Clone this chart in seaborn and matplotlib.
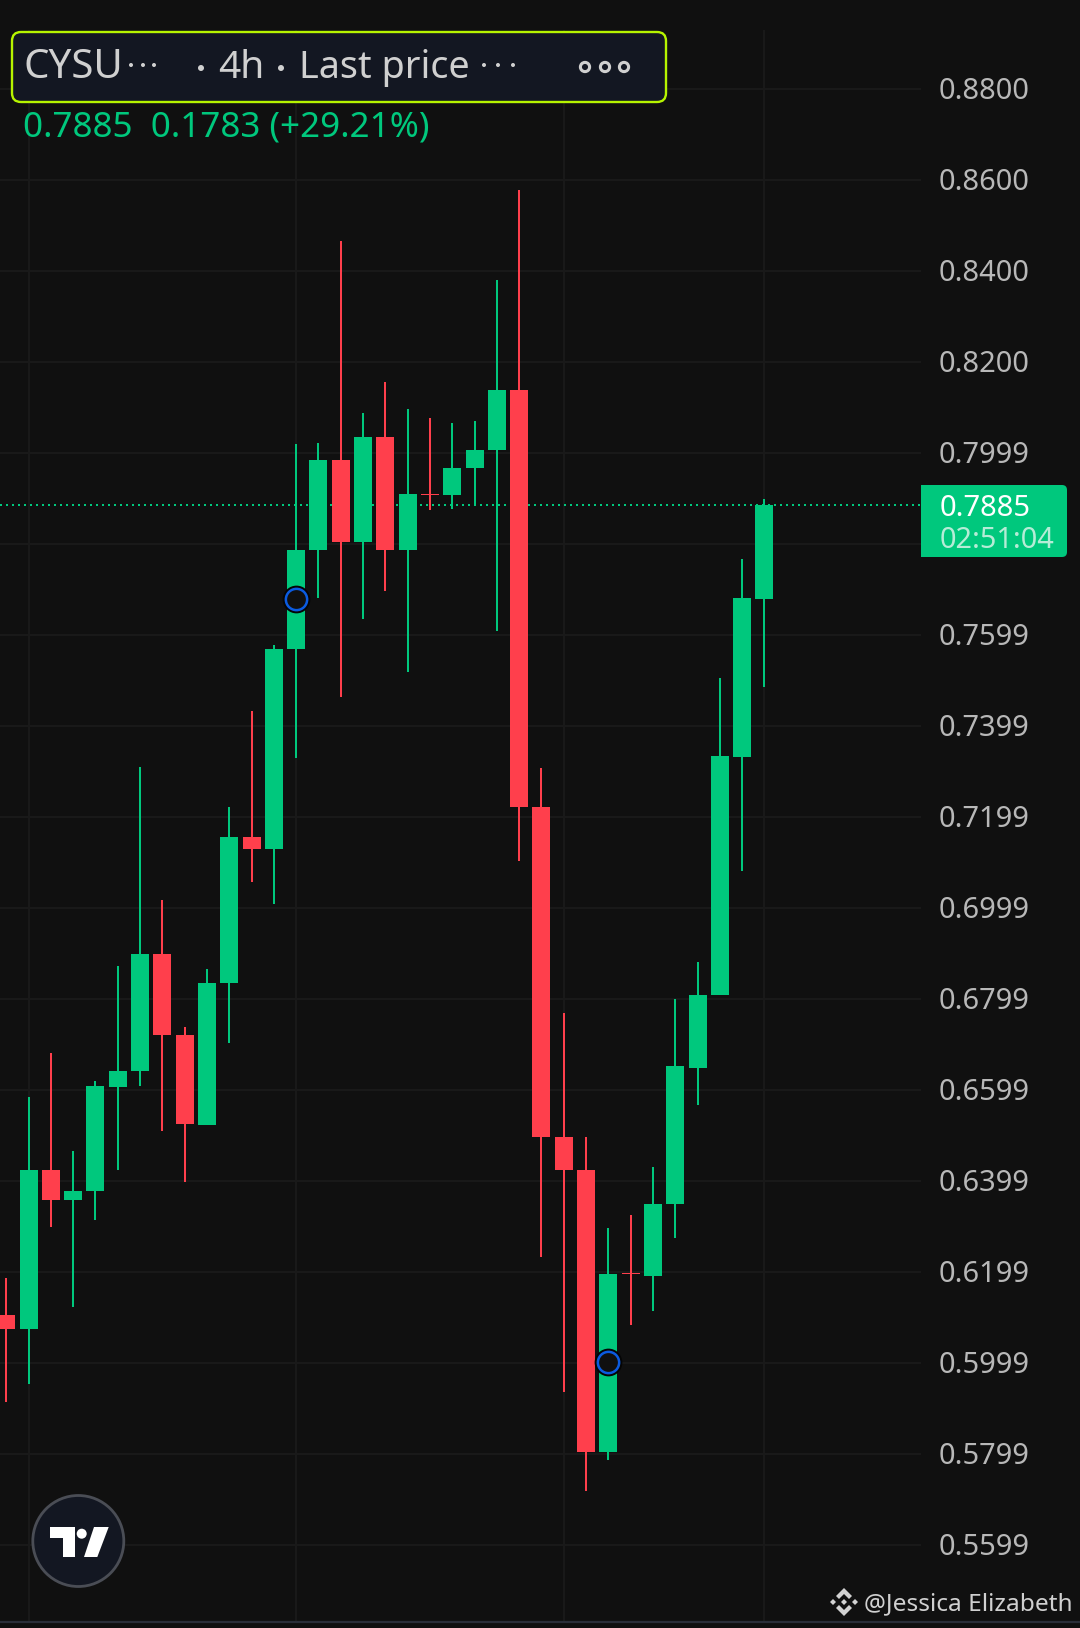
import numpy as np
import pandas as pd
import seaborn as sns
import matplotlib.pyplot as plt
from matplotlib.patches import Circle, FancyBboxPatch, Polygon, Rectangle
from matplotlib.transforms import ScaledTranslation

BG = "#101010"
GRID = "#1a1a1a"
GREEN = "#00c87d"
RED = "#ff3f4c"
PANEL = "#131722"
TEXT = "#d0d0d0"
SCALE_TEXT = "#b8b8b8"

# 4h candles, oldest first
opens = [0.6106, 0.6074, 0.6425, 0.6359, 0.6378, 0.6606, 0.6642, 0.6898, 0.6722, 0.6524, 0.6836, 0.7156,
         0.7129, 0.7569, 0.7786, 0.7985, 0.7804, 0.8035, 0.7786, 0.7911, 0.7907, 0.7966, 0.8007, 0.8139,
         0.7223, 0.6496, 0.6425, 0.5805, 0.6197, 0.6191, 0.6350, 0.6649, 0.6809, 0.7332, 0.7679]
closes = [0.6074, 0.6425, 0.6359, 0.6378, 0.6608, 0.6642, 0.6898, 0.6722, 0.6526, 0.6836, 0.7156, 0.7129,
          0.7569, 0.7786, 0.7985, 0.7804, 0.8035, 0.7786, 0.7911, 0.7907, 0.7968, 0.8007, 0.8139, 0.7223,
          0.6496, 0.6425, 0.5805, 0.6195, 0.6195, 0.6350, 0.6652, 0.6809, 0.7334, 0.7681, 0.7886]
highs = [0.6186, 0.6585, 0.6681, 0.6467, 0.6620, 0.6873, 0.7309, 0.7017, 0.6738, 0.6866, 0.7222, 0.7432,
         0.7578, 0.8019, 0.8023, 0.8466, 0.8087, 0.8156, 0.8096, 0.8078, 0.8067, 0.8071, 0.8381, 0.8578,
         0.7307, 0.6770, 0.6496, 0.6296, 0.6325, 0.6430, 0.6800, 0.6882, 0.7505, 0.7768, 0.7898]
lows = [0.5914, 0.5953, 0.6298, 0.6124, 0.6314, 0.6425, 0.6608, 0.6510, 0.6398, 0.6524, 0.6704, 0.7058,
        0.7008, 0.7329, 0.7681, 0.7464, 0.7635, 0.7697, 0.7519, 0.7875, 0.7877, 0.7884, 0.7608, 0.7104,
        0.6232, 0.5937, 0.5718, 0.5787, 0.6083, 0.6115, 0.6275, 0.6567, 0.6809, 0.7081, 0.7485]
is_up = [False, True, False, True, True, True, True, False, False, True, True, False,
         True, True, True, False, True, False, True, False, True, True, True, False,
         False, False, False, True, False, True, True, True, True, True, True]

tick_prices = [0.88, 0.86, 0.84, 0.82, 0.80, 0.78, 0.76, 0.74, 0.72, 0.70, 0.68, 0.66, 0.64, 0.62, 0.60, 0.58, 0.56]
tick_labels = ["0.8800", "0.8600", "0.8400", "0.8200", "0.7999", "", "0.7599", "0.7399", "0.7199",
               "0.6999", "0.6799", "0.6599", "0.6399", "0.6199", "0.5999", "0.5799", "0.5599"]
vgrid_candles = [1, 13, 25, 34]
last_price = 0.7885
signal_idx = [13, 27]
signal_price = [0.7679, 0.6003]

df = pd.DataFrame({"idx": np.arange(len(opens)), "open": opens, "close": closes,
                   "high": highs, "low": lows, "up": is_up})
df["bottom"] = df[["open", "close"]].min(axis=1)
df["height"] = (df["open"] - df["close"]).abs()

sns.set_theme(style="dark")
plt.rcParams.update({
    "figure.facecolor": BG,
    "axes.facecolor": BG,
    "axes.edgecolor": BG,
    "grid.color": GRID,
    "font.family": ["Noto Sans", "DejaVu Sans"],
})

W, H = 1080, 1628
fig = plt.figure(figsize=(W / 100, H / 100), dpi=100)
ax = fig.add_axes([0, 6 / H, 921 / W, 1592 / H])
ax.set_axisbelow(True)

ax.axhline(last_price, color=GREEN, lw=1.44, dashes=(1, 2), zorder=1)
ax.vlines(df["idx"], df["low"], df["high"], colors=[GREEN if u else RED for u in df["up"]], lw=1.44, zorder=2)

for up, color in [(True, GREEN), (False, RED)]:
    sub = df[df["up"] == up]
    sns.barplot(data=sub, x="idx", y="height", bottom=sub["bottom"].values, color=color, saturation=1,
                native_scale=True, width=0.81, errorbar=None, linewidth=0, ax=ax, zorder=3)

sns.scatterplot(x=signal_idx, y=signal_price, s=330, facecolors="#101010", edgecolor="#050505", linewidth=1.8,
                ax=ax, zorder=4, legend=False)
sns.scatterplot(x=signal_idx, y=signal_price, s=235, facecolors="#101010", edgecolor="#0b5be0", linewidth=1.8,
                ax=ax, zorder=5, legend=False)

ax.set_xlim(-0.28, 41.02)
ax.set_ylim(0.54308, 0.89297)
ax.set_xlabel("")
ax.set_ylabel("")
ax.set_xticks(vgrid_candles)
ax.set_xticklabels([])
ax.yaxis.tick_right()
ax.set_yticks(tick_prices)
ax.set_yticklabels(tick_labels, fontsize=20.9, color=SCALE_TEXT)
ax.tick_params(axis="both", length=0)
ax.tick_params(axis="y", pad=12.8)
for lab in ax.get_yticklabels():
    lab.set_transform(lab.get_transform() + ScaledTranslation(0, 1 / 100, fig.dpi_scale_trans))
ax.grid(True, color=GRID, lw=1.4)
for s in ax.spines.values():
    s.set_visible(False)

# overlay in screen pixels for the app chrome
ov = fig.add_axes([0, 0, 1, 1], facecolor="none")
ov.set_xlim(0, W)
ov.set_ylim(H, 0)
ov.axis("off")

ov.add_patch(FancyBboxPatch((12, 32), 654, 70, boxstyle="round,pad=0,rounding_size=9",
                            fc=PANEL, ec="#b6f400", lw=1.7))
ov.text(24, 78, "CYSU", fontsize=29, color=TEXT, va="baseline")
ov.text(218, 78, "4h", fontsize=28, color=TEXT, va="baseline")
ov.text(299, 78, "Last price", fontsize=27.2, color=TEXT, va="baseline")
for x in [131, 143, 154, 484, 498, 513]:
    ov.add_patch(Circle((x, 65), 2, fc=TEXT, ec="none"))
for x in [201, 281]:
    ov.add_patch(Circle((x, 68), 3, fc=TEXT, ec="none"))
for x in [585, 605, 624]:
    ov.add_patch(Circle((x, 67), 4.6, fc="none", ec=TEXT, lw=2.2))

ov.text(23, 137, "0.7885  0.1783 (+29.21%)", fontsize=25.2, color=GREEN, va="baseline")

# last price tag
ov.add_patch(Rectangle((921, 485), 130, 72, fc=GREEN, ec="none"))
ov.add_patch(FancyBboxPatch((1000, 485), 67, 72, boxstyle="round,pad=0,rounding_size=5", fc=GREEN, ec="none"))
ov.text(940, 516, "0.7885", fontsize=21, color="#ffffff", va="baseline")
ov.text(940, 548, "02:51:04", fontsize=20.8, color="#b5ecd6", va="baseline")

# TradingView badge
ov.add_patch(Circle((78.3, 1541), 45.5, fc=PANEL, ec="#4a4d55", lw=2))
ov.add_patch(Polygon([(50, 1527), (75, 1527), (75, 1557), (63, 1557), (63, 1538), (50, 1538)], fc="white", ec="none"))
ov.add_patch(Circle((81.7, 1533.7), 5, fc="white", ec="none"))
ov.add_patch(Polygon([(94, 1527), (108.7, 1527), (97.3, 1557), (84, 1557)], fc="white", ec="none"))

# watermark
ov.text(864, 1610, "@Jessica Elizabeth", fontsize=17.6, color=TEXT, va="baseline")
cx, cy = 844, 1602
for sign in (-1, 1):
    ov.add_patch(Polygon([(cx, cy + sign * 14), (cx + 8, cy + sign * 6), (cx + 5, cy + sign * 3), (cx, cy + sign * 8),
                          (cx - 5, cy + sign * 3), (cx - 8, cy + sign * 6)], fc="#d2d2d2", ec="none"))
for dx, m in [(-11, 3), (0, 3), (11, 3)]:
    ov.add_patch(Polygon([(cx + dx - m, cy), (cx + dx, cy - m), (cx + dx + m, cy), (cx + dx, cy + m)],
                         fc="#d2d2d2", ec="none"))

ov.plot([0, W], [1622, 1622], color="#2a2e39", lw=1.6)

fig.savefig("out.png", dpi=100, facecolor=BG)
